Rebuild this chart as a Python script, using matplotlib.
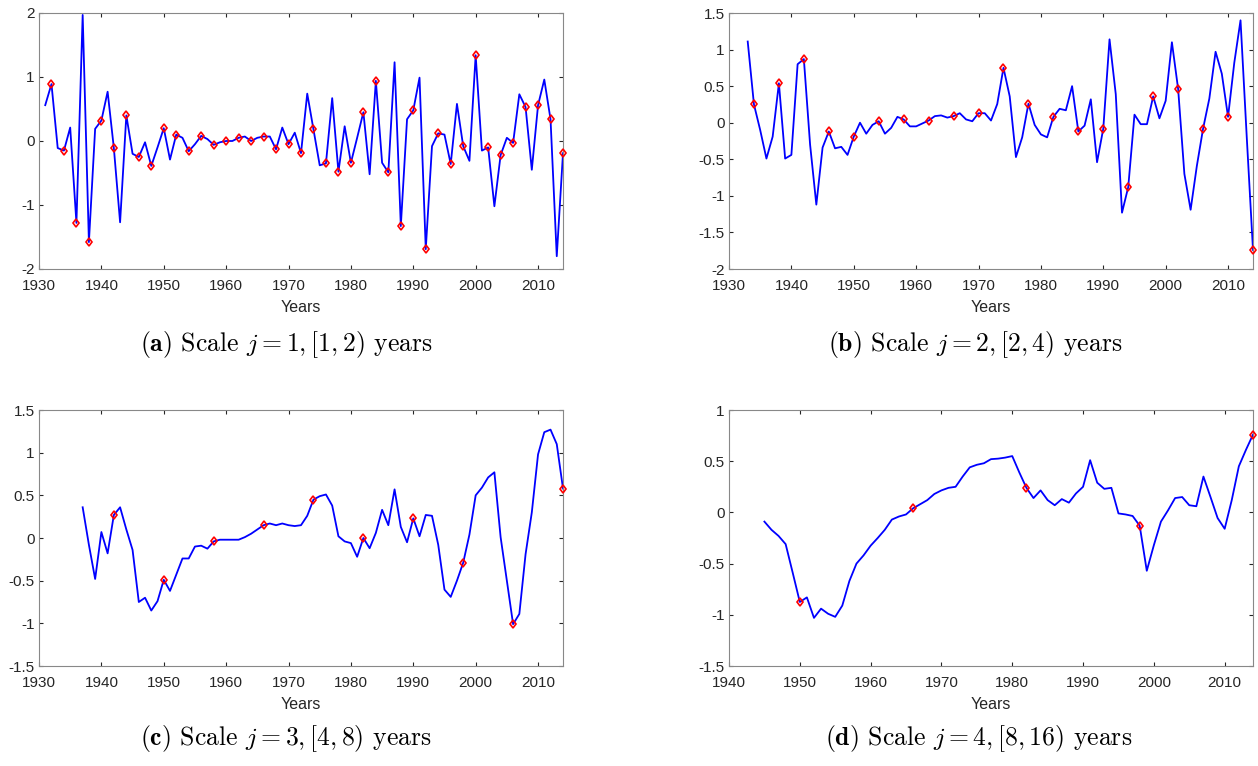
import numpy as np
import matplotlib
matplotlib.use("Agg")
import matplotlib.pyplot as plt

plt.rcParams['font.family'] = ['Liberation Sans', 'DejaVu Sans']
plt.rcParams['axes.unicode_minus'] = False
plt.rcParams['mathtext.fontset'] = 'cm'

### Data (yearly wavelet detail coefficients)
years_a = np.arange(1931, 2015)
vals_a = [0.56, 0.89, -0.11, -0.15, 0.21, -1.28, 1.97, -1.58, 0.19, 0.32,
          0.77, -0.11, -1.27, 0.40, -0.20, -0.25, -0.02, -0.39, -0.10, 0.20,
          -0.29, 0.10, 0.05, -0.16, -0.05, 0.08, 0.03, -0.06, -0.02, 0.00,
          0.00, 0.05, 0.07, 0.00, 0.05, 0.07, 0.07, -0.13, 0.21, -0.05,
          0.13, -0.19, 0.74, 0.18, -0.38, -0.35, 0.67, -0.48, 0.23, -0.34,
          0.05, 0.45, -0.52, 0.94, -0.34, -0.49, 1.23, -1.33, 0.34, 0.48,
          0.99, -1.69, -0.08, 0.12, 0.10, -0.36, 0.58, -0.08, -0.31, 1.34,
          -0.15, -0.10, -1.02, -0.22, 0.05, -0.03, 0.73, 0.53, -0.45, 0.56,
          0.96, 0.34, -1.80, -0.19]

years_b = np.arange(1933, 2015)
vals_b = [1.11, 0.25, -0.10, -0.49, -0.19, 0.54, -0.49, -0.44, 0.80, 0.87,
          -0.30, -1.12, -0.34, -0.12, -0.35, -0.33, -0.44, -0.19, 0.00, -0.15,
          -0.03, 0.02, -0.15, -0.07, 0.08, 0.045, -0.05, -0.05, -0.01, 0.03,
          0.09, 0.10, 0.07, 0.09, 0.13, 0.045, 0.02, 0.13, 0.13, 0.03,
          0.255, 0.75, 0.36, -0.47, -0.20, 0.26, -0.03, -0.16, -0.20, 0.08,
          0.19, 0.17, 0.50, -0.12, -0.04, 0.32, -0.54, -0.08, 1.14, 0.39,
          -1.23, -0.88, 0.11, -0.02, -0.02, 0.36, 0.06, 0.30, 1.10, 0.46,
          -0.70, -1.19, -0.59, -0.08, 0.33, 0.97, 0.67, 0.08, 0.82, 1.40,
          -0.20, -1.74]

years_c = np.arange(1937, 2015)
vals_c = [0.36, -0.08, -0.48, 0.07, -0.18, 0.27, 0.36, 0.10, -0.14, -0.75,
          -0.70, -0.85, -0.74, -0.49, -0.62, -0.43, -0.24, -0.24, -0.10, -0.09,
          -0.125, -0.04, -0.02, -0.02, -0.02, -0.02, 0.01, 0.05, 0.10, 0.15,
          0.17, 0.15, 0.17, 0.15, 0.14, 0.15, 0.26, 0.45, 0.49, 0.51,
          0.38, 0.02, -0.04, -0.06, -0.22, 0.00, -0.12, 0.06, 0.33, 0.15,
          0.57, 0.13, -0.05, 0.23, 0.02, 0.27, 0.26, -0.08, -0.605, -0.69,
          -0.50, -0.29, 0.04, 0.50, 0.59, 0.71, 0.77, 0.01, -0.50, -1.01,
          -0.89, -0.19, 0.30, 0.98, 1.24, 1.27, 1.10, 0.58]

years_d = np.arange(1945, 2015)
vals_d = [-0.09, -0.17, -0.23, -0.31, -0.59, -0.875, -0.83, -1.03, -0.94, -0.99,
          -1.02, -0.91, -0.67, -0.50, -0.42, -0.325, -0.25, -0.17, -0.07, -0.04,
          -0.02, 0.04, 0.08, 0.12, 0.18, 0.215, 0.24, 0.25, 0.35, 0.44,
          0.465, 0.48, 0.52, 0.525, 0.535, 0.55, 0.39, 0.24, 0.14, 0.215,
          0.12, 0.07, 0.13, 0.095, 0.185, 0.25, 0.51, 0.29, 0.23, 0.24,
          -0.01, -0.02, -0.035, -0.13, -0.57, -0.32, -0.09, 0.02, 0.14, 0.15,
          0.07, 0.06, 0.35, 0.15, -0.055, -0.16, 0.12, 0.45, 0.61, 0.76]

### marker spacing 2^j years, all ending at 2014
steps = [2, 4, 8, 16]
xlims = [(1930, 2014), (1930, 2014), (1930, 2014), (1940, 2014)]
ylims = [(-2, 2), (-2, 1.5), (-1.5, 1.5), (-1.5, 1)]
ysteps = [1, 0.5, 0.5, 0.5]
captions = [r"$\mathbf{(a)}$ Scale $j = 1, [1, 2)$ years",
            r"$\mathbf{(b)}$ Scale $j = 2, [2, 4)$ years",
            r"$\mathbf{(c)}$ Scale $j = 3, [4, 8)$ years",
            r"$\mathbf{(d)}$ Scale $j = 4, [8, 16)$ years"]
series = [(years_a, vals_a), (years_b, vals_b), (years_c, vals_c), (years_d, vals_d)]

W, H = 1258, 766
fig = plt.figure(figsize=(W / 100, H / 100), dpi=100)

# pixel boxes: left, top, right, bottom
boxes = [(39, 13, 563, 269), (729, 13, 1253, 269),
         (39, 410, 563, 666), (729, 410, 1253, 666)]
cap_pos = [(286, 344), (975, 344), (286, 739), (979, 739)]

for i in range(4):
    l, t, r, b = boxes[i]
    ax = fig.add_axes([l / W, 1 - b / H, (r - l) / W, (b - t) / H])
    yrs, v = series[i]
    v = np.array(v)
    ax.plot(yrs, v, color='#0000ff', lw=1.3, zorder=2)
    mask = (2014 - yrs) % steps[i] == 0
    ax.plot(yrs[mask], v[mask], linestyle='none', marker='d', markersize=4.5,
            mfc='none', mec='#ff0000', mew=1.2, zorder=3, clip_on=False)
    ax.set_xlim(*xlims[i])
    ax.set_ylim(*ylims[i])
    ax.set_xticks(np.arange(xlims[i][0], 2011, 10))
    ax.set_yticks(np.arange(ylims[i][0], ylims[i][1] + 0.01, ysteps[i]))
    ax.yaxis.set_major_formatter(matplotlib.ticker.FormatStrFormatter('%g'))
    ax.tick_params(direction='in', length=3, width=0.8, top=True, right=True,
                   labelsize=11, colors='#262626')
    ax.tick_params(axis='x', pad=7)
    ax.tick_params(axis='y', pad=3)
    for sp in ax.spines.values():
        sp.set_color('#888888')
        sp.set_linewidth(0.8)
    ax.set_xlabel('Years', fontsize=11.5, color='#262626', labelpad=5)
    fig.text(cap_pos[i][0] / W, 1 - cap_pos[i][1] / H, captions[i],
             fontsize=18.5, family='cmr10', ha='center', va='center')

fig.savefig('out.png', dpi=100)
